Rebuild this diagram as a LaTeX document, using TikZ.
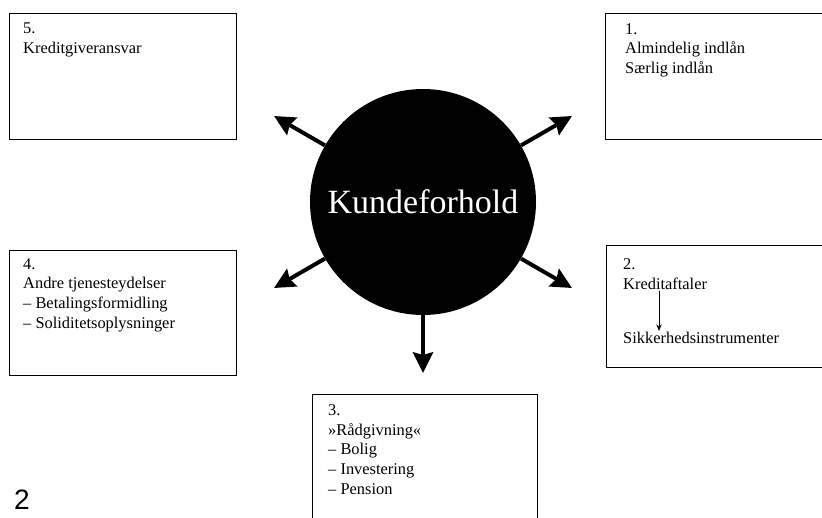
\documentclass[tikz,border=0pt]{standalone}
\usepackage{fontspec}
\setmainfont{Liberation Serif}
\newfontfamily\labelfont{Liberation Sans}
\usetikzlibrary{arrows.meta, positioning}

\begin{document}
\begin{tikzpicture}[
    box/.style={rectangle, draw=black, line width=0.8pt, anchor=north west, inner sep=0pt},
    entry/.style={anchor=north west, inner sep=0pt, align=left, font=\fontsize{14}{17}\selectfont},
    hub/.style={circle, fill=black, minimum size=6.78cm, inner sep=0pt, text=white,
                font=\fontsize{29}{31}\selectfont},
    spoke/.style={line width=3.4pt, -{Stealth[length=0.62cm, width=0.6cm, inset=0.08cm]}}
]
    \useasboundingbox (0,0) rectangle (24.66,-15.54);

    % Center
    \node[hub] (kunde) at (12.69,-6.06) {Kundeforhold};

    % Boxes
    \node[box, minimum width=6.81cm, minimum height=3.78cm] (b5) at (0.27,-0.39) {};
    \node[box, minimum width=6.6cm, minimum height=3.78cm] (b1) at (18.15,-0.39) {};
    \node[box, minimum width=6.81cm, minimum height=3.75cm] (b4) at (0.27,-7.5) {};
    \node[box, minimum width=6.6cm, minimum height=3.66cm] (b2) at (18.18,-7.35) {};
    \node[box, minimum width=6.75cm, minimum height=3.9cm] (b3) at (9.36,-11.82) {};

    % Texts
    \node[entry] (t5) at ([shift={(0.42,-0.3)}]b5.north west) {5.\\Kreditgiveransvar};
    \node[entry] (t1) at ([shift={(0.6,-0.3)}]b1.north west) {1.\\Almindelig indlån\\Særlig indlån};
    \node[entry] (t4) at ([shift={(0.42,-0.24)}]b4.north west) {4.\\Andre tjenesteydelser\\– Betalingsformidling\\– Soliditetsoplysninger};
    \node[entry] (t2) at ([shift={(0.51,-0.39)}]b2.north west) {2.\\Kreditaftaler};
    \node[entry] (sikker) at ([shift={(0.51,-2.61)}]b2.north west) {Sikkerhedsinstrumenter};
    \node[entry] (t3) at ([shift={(0.48,-0.3)}]b3.north west) {3.\\»Rådgivning«\\– Bolig\\– Investering\\– Pension};
    \draw[line width=0.8pt, -{Stealth[length=0.2cm, width=0.16cm]}] ([xshift=1.08cm, yshift=-0.04cm]t2.south west) -- ([xshift=1.08cm, yshift=0.03cm]t2.south west |- sikker.north);

    % Arrows
    \coordinate (tip1) at ([shift={(30:5.16)}]kunde.center);
    \coordinate (tip2) at ([shift={(-30:5.16)}]kunde.center);
    \coordinate (tip3) at ([shift={(-90:5.13)}]kunde.center);
    \coordinate (tip4) at ([shift={(210:5.16)}]kunde.center);
    \coordinate (tip5) at ([shift={(150:5.16)}]kunde.center);
    \draw[spoke] (kunde.30) -- (tip1);
    \draw[spoke] (kunde.-30) -- (tip2);
    \draw[spoke] (kunde.-90) -- (tip3);
    \draw[spoke] (kunde.210) -- (tip4);
    \draw[spoke] (kunde.150) -- (tip5);

    % Page number
    \node[font=\labelfont\fontsize{24}{26}\selectfont, inner sep=0pt] (page) at (0.66,-15.0) {2};
\end{tikzpicture}
\end{document}
